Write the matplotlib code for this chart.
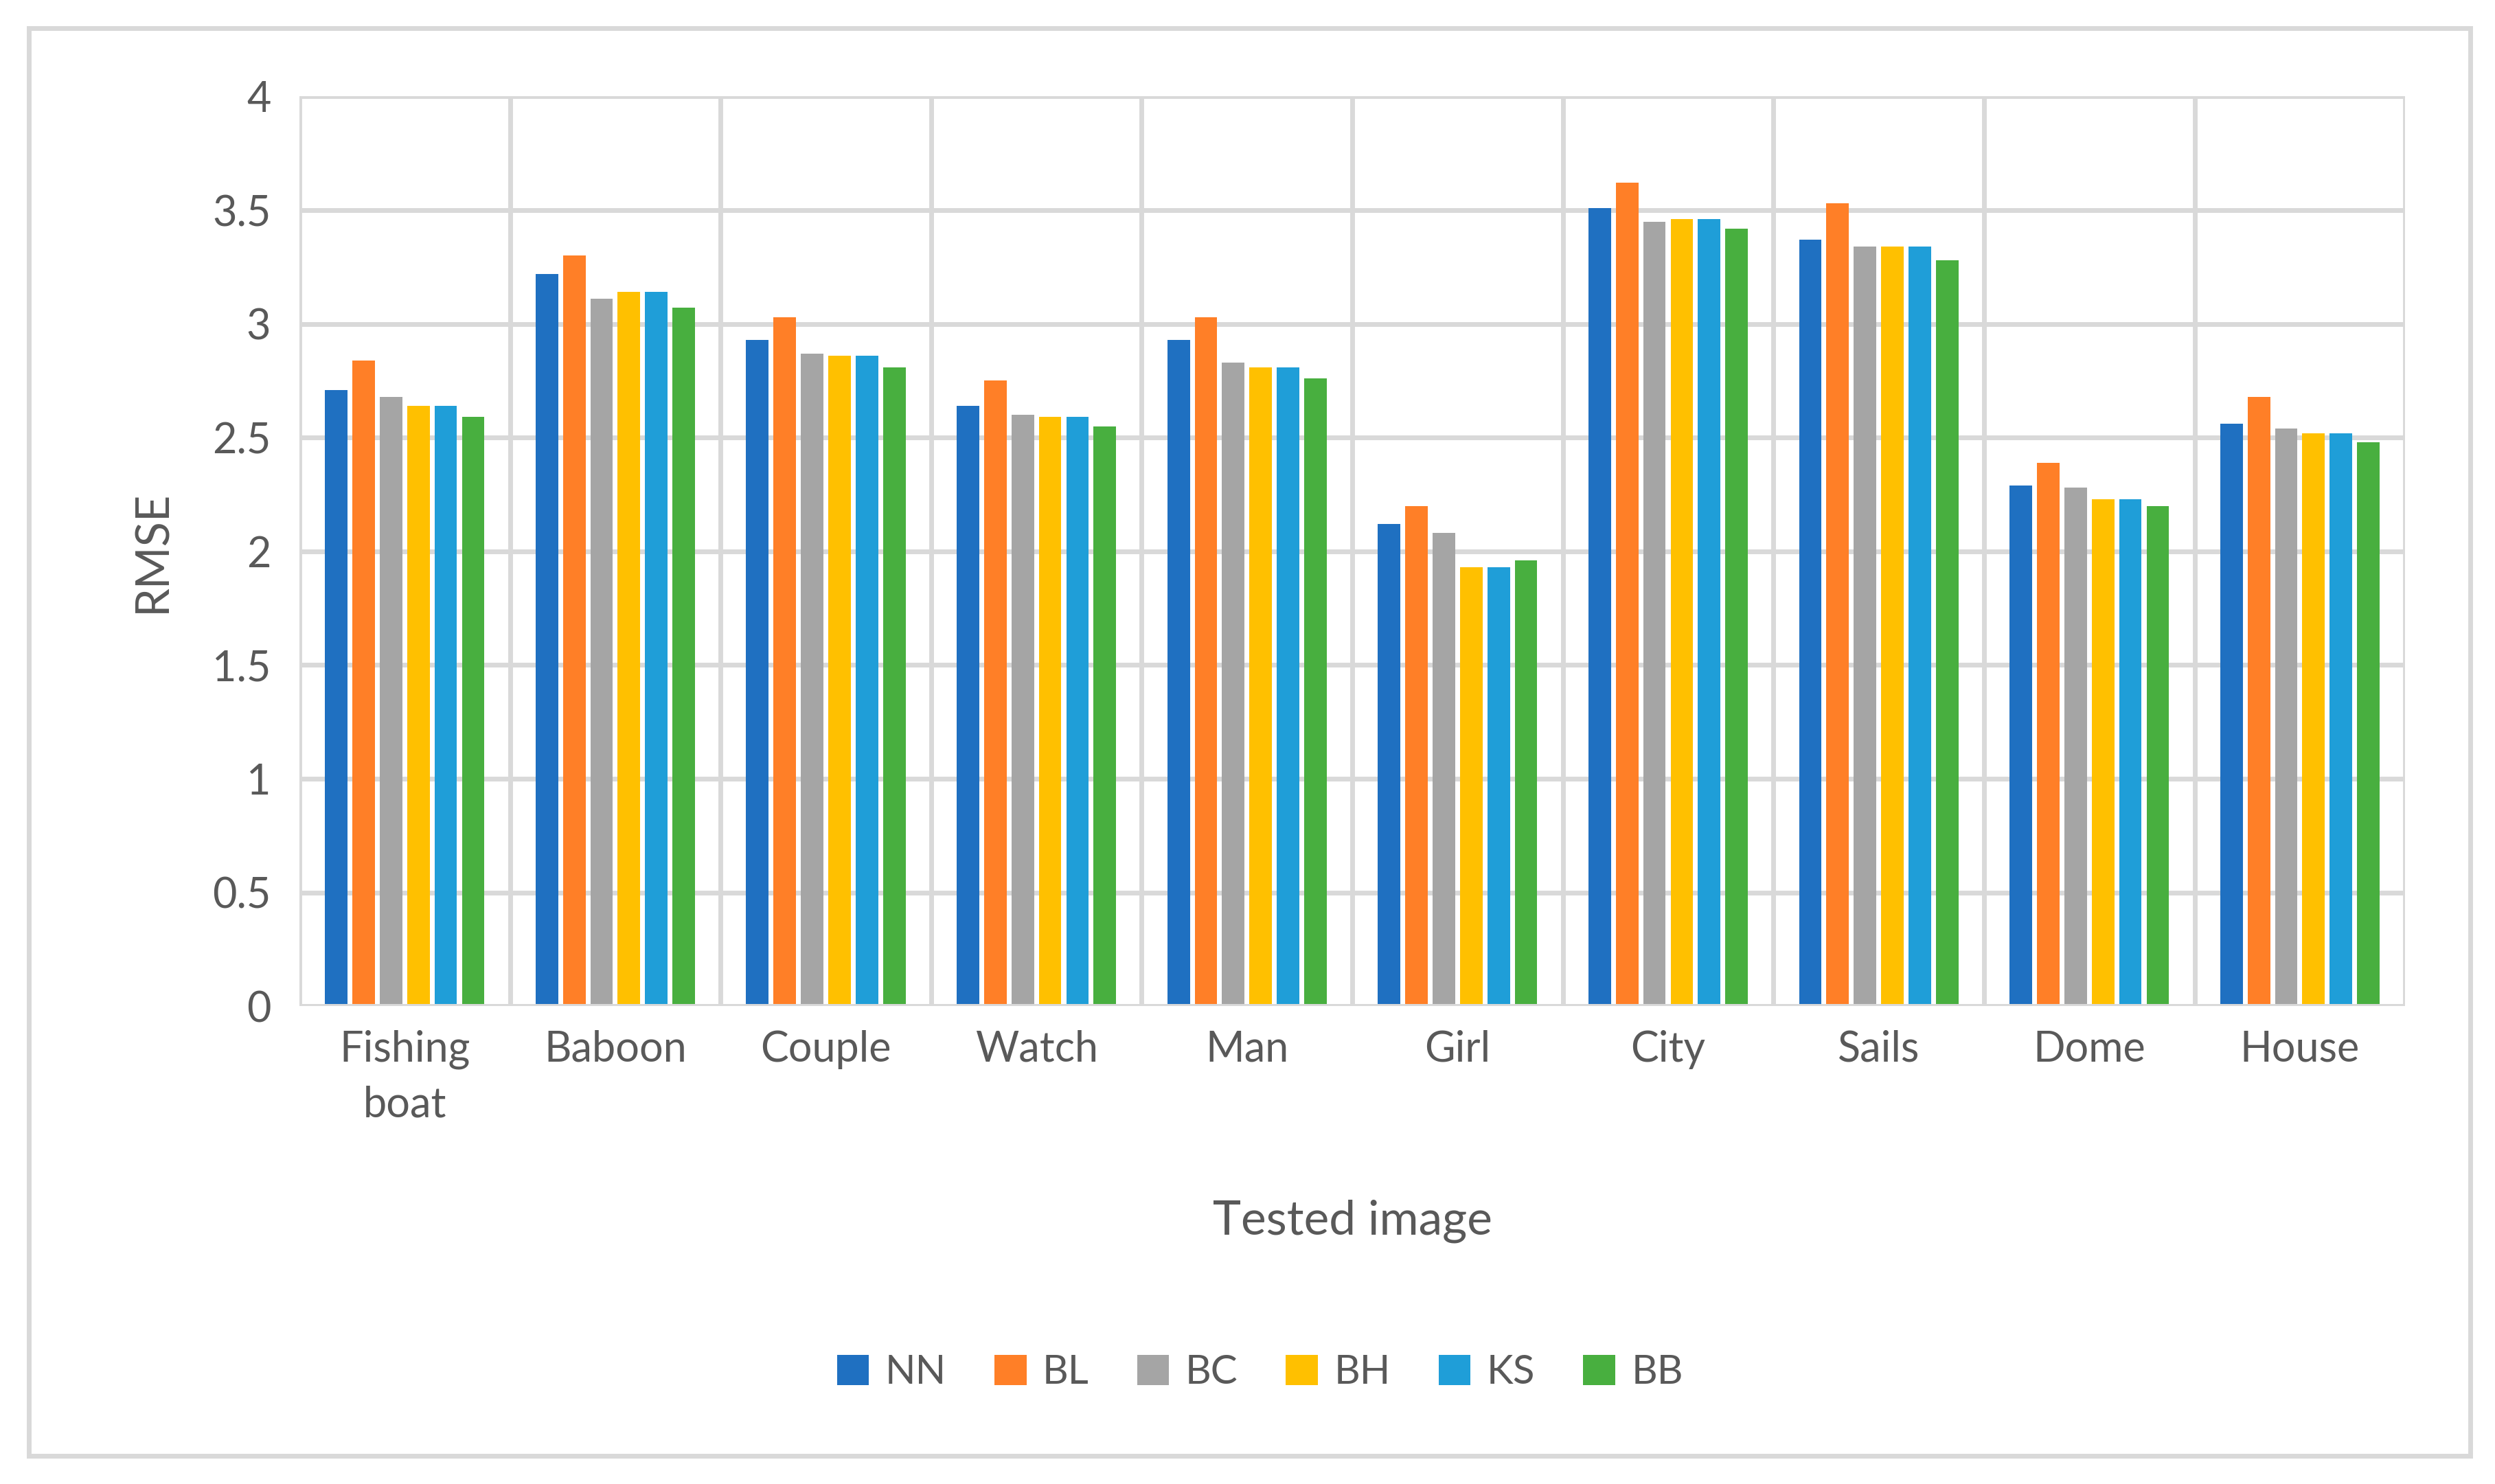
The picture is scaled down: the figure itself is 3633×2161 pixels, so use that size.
import matplotlib
matplotlib.use("Agg")
import matplotlib.pyplot as plt
import numpy as np
from matplotlib.patches import Rectangle

categories = ["Fishing\nboat", "Baboon", "Couple", "Watch", "Man", "Girl", "City", "Sails", "Dome", "House"]
series = ["NN", "BL", "BC", "BH", "KS", "BB"]
NN = [2.71, 3.22, 2.93, 2.64, 2.93, 2.12, 3.51, 3.37, 2.29, 2.56]
BL = [2.84, 3.30, 3.03, 2.75, 3.03, 2.20, 3.62, 3.53, 2.39, 2.68]
BC = [2.68, 3.11, 2.87, 2.60, 2.83, 2.08, 3.45, 3.34, 2.28, 2.54]
BH = [2.64, 3.14, 2.86, 2.59, 2.81, 1.93, 3.46, 3.34, 2.23, 2.52]
KS = [2.64, 3.14, 2.86, 2.59, 2.81, 1.93, 3.46, 3.34, 2.23, 2.52]
BB = [2.59, 3.07, 2.81, 2.55, 2.76, 1.96, 3.42, 3.28, 2.20, 2.48]
values = [NN, BL, BC, BH, KS, BB]
colors = ["#1F70C1", "#FF7F27", "#A5A5A5", "#FFC000", "#1F9ED8", "#48AF3F"]

plt.rcParams['font.family'] = ['Lato', 'DejaVu Sans']
txt = "#595959"
grid = "#D9D9D9"

fig = plt.figure(figsize=(36.33, 21.61), dpi=100)
ax = fig.add_axes([0.120, 0.322, 0.844, 0.613])
x = np.arange(len(categories))
w = 0.107
step = 0.13
for i, (s, v, c) in enumerate(zip(series, values, colors)):
    ax.bar(x + (i - 2.5) * step, v, width=w, color=c, label=s, zorder=3)

ax.set_xlim(-0.5, len(categories) - 0.5)
ax.set_ylim(0, 4)
ax.set_yticks(np.arange(0, 4.01, 0.5))
ax.set_yticklabels(["0", "0.5", "1", "1.5", "2", "2.5", "3", "3.5", "4"])
ax.set_xticks(x)
ax.set_xticklabels(categories, linespacing=1.5)
for b in np.arange(-0.5, len(categories), 1):
    ax.axvline(b, color=grid, lw=5, zorder=1)
ax.yaxis.grid(True, color=grid, lw=5, zorder=1)
for sp in ax.spines.values():
    sp.set_visible(False)
ax.axhline(0, color=grid, lw=5, zorder=4)
ax.tick_params(axis='both', length=0, labelsize=44, colors=txt)
ax.tick_params(axis='x', pad=25)
ax.tick_params(axis='y', pad=30)
ax.set_ylabel("RMSE", fontsize=48, color=txt, labelpad=40)
fig.text(0.542, 0.177, "Tested image", fontsize=50, color=txt, ha='center', va='center')

leg = fig.legend(loc='center', bbox_to_anchor=(0.505, 0.075), ncol=6, frameon=False,
                 fontsize=42, handlelength=0.8, handleheight=0.8, columnspacing=1.2, handletextpad=0.4)
for t in leg.get_texts():
    t.set_color(txt)

fig.patches.append(Rectangle((0.0115, 0.019), 0.9785, 0.962, transform=fig.transFigure,
                             fill=False, edgecolor=grid, lw=5))
fig.savefig("out.png", dpi=100, facecolor="white")
